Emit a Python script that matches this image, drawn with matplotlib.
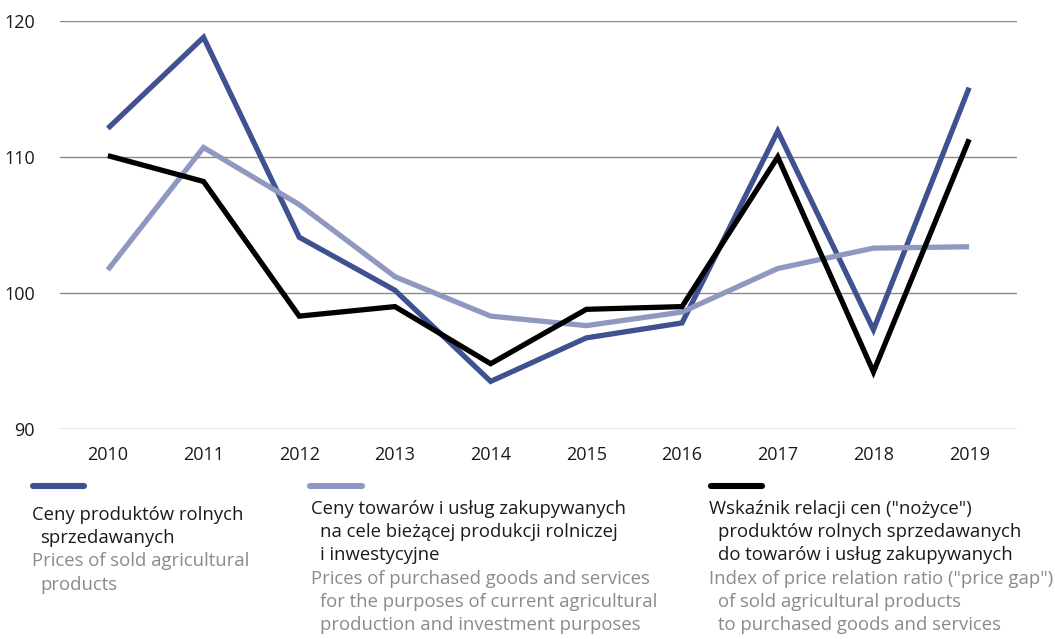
import matplotlib
matplotlib.use("Agg")
import matplotlib.pyplot as plt
from matplotlib.lines import Line2D

plt.rcParams['font.family'] = ['Open Sans', 'DejaVu Sans']

years = [2010, 2011, 2012, 2013, 2014, 2015, 2016, 2017, 2018, 2019]
sold_products = [112.1, 118.8, 104.1, 100.2, 93.5, 96.7, 97.8, 111.9, 97.3, 115.1]
purchased_goods = [101.7, 110.7, 106.5, 101.2, 98.3, 97.6, 98.6, 101.8, 103.3, 103.4]
price_gap = [110.1, 108.2, 98.3, 99.0, 94.8, 98.8, 99.0, 110.0, 94.2, 111.3]
y_ticks = [90, 100, 110, 120]

legend_pl = [
    ["Ceny produktów rolnych", "sprzedawanych"],
    ["Ceny towarów i usług zakupywanych", "na cele bieżącej produkcji rolniczej", "i inwestycyjne"],
    ["Wskaźnik relacji cen (\"nożyce\")", "produktów rolnych sprzedawanych", "do towarów i usług zakupywanych"],
]
legend_en = [
    ["Prices of sold agricultural", "products"],
    ["Prices of purchased goods and services", "for the purposes of current agricultural",
     "production and investment purposes"],
    ["Index of price relation ratio (\"price gap\")", "of sold agricultural products",
     "to purchased goods and services"],
]

DARK = '#3f5190'
LIGHT = '#8e98c0'
BLACK = '#000000'
colors = [DARK, LIGHT, BLACK]

W, H = 1055, 639
fig = plt.figure(figsize=(W / 100, H / 100), dpi=100)
ax = fig.add_axes([60 / W, 1 - 429 / H, (1017 - 60) / W, (429 - 21) / H])

for vals, c in zip([sold_products, purchased_goods, price_gap], colors):
    ax.plot(years, vals, color=c, lw=3.8, solid_joinstyle='miter', solid_capstyle='butt', zorder=3)

ax.set_xlim(2009.5, 2019.5)
ax.set_ylim(90, 120)
ax.set_yticks(y_ticks)
ax.set_xticks(years)
ax.grid(axis='y', color='#8a8a8a', lw=1.0)
ax.set_axisbelow(True)
for s in ax.spines.values():
    s.set_visible(False)
ax.tick_params(axis='both', length=0, labelsize=13, colors='#1a1a1a')
ax.tick_params(axis='y', pad=18)
ax.tick_params(axis='x', pad=12)

def px(x, y):
    return x / W, 1 - y / H

# legend blocks (first line flush, following lines indented)
line_x = [(33, 84), (310, 362), (711, 762)]
text_x = [32, 311, 709]
text_y0 = [515, 509, 509]
step = 23.2
indent = 8.5
for i in range(3):
    x0, x1 = line_x[i]
    fig.add_artist(Line2D([x0 / W, x1 / W], [1 - 486 / H] * 2, color=colors[i], lw=4.4,
                          solid_capstyle='round'))
    y = text_y0[i]
    for j, t in enumerate(legend_pl[i]):
        x = text_x[i] + (indent if j > 0 else 0)
        fig.text(*px(x, y), t, fontsize=13.3, color='#1a1a1a', va='center', ha='left')
        y += step
    for j, t in enumerate(legend_en[i]):
        x = text_x[i] + (indent if j > 0 else 0)
        fig.text(*px(x, y), t, fontsize=13.3, color='#8a8a8a', va='center', ha='left')
        y += step

fig.savefig('out.png', dpi=100)
